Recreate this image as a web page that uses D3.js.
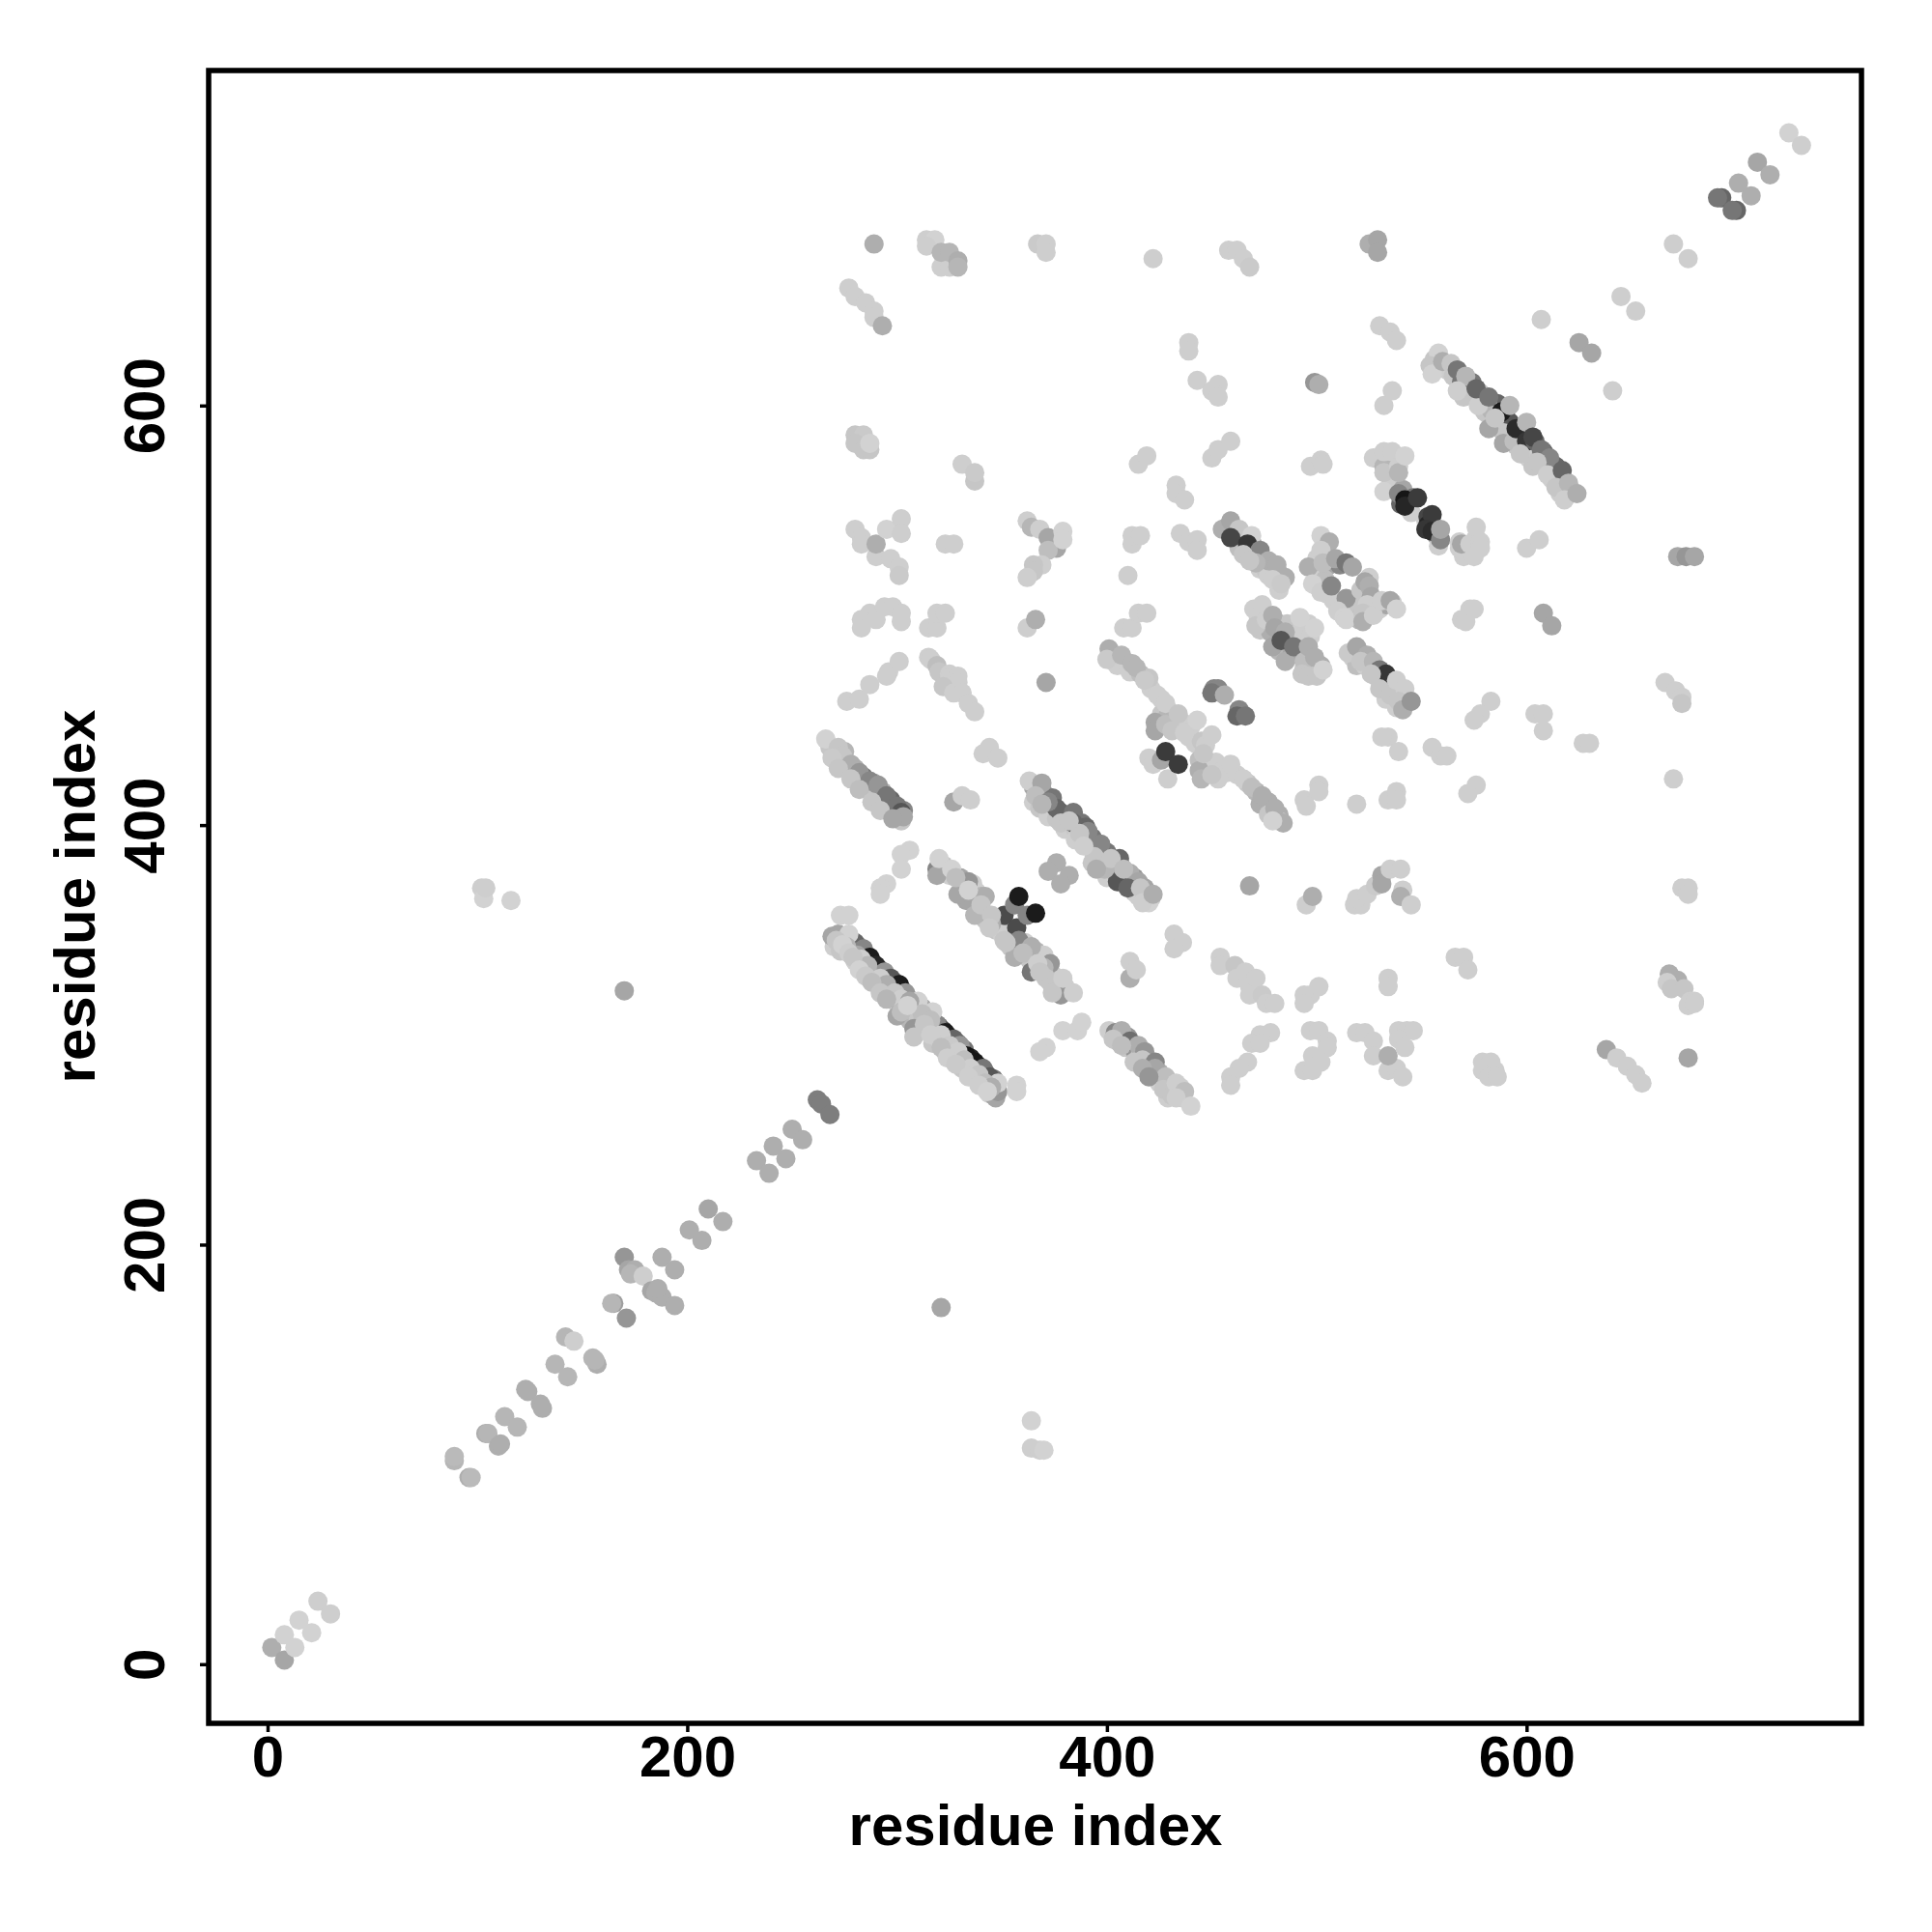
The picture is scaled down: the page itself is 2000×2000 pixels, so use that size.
<!DOCTYPE html>
<html><head><meta charset="utf-8">
<script src="https://cdn.jsdelivr.net/npm/d3@7"></script>
<style>html,body{margin:0;background:#fff}svg{display:block}text{font-family:"Liberation Sans",Arial,sans-serif;font-weight:bold;fill:#000}</style>
</head><body><svg id="c" width="2000" height="2000"></svg>
<script>
// each contact: [residue i, residue j, grey level]
const xTicks=[0,200,400,600], yTicks=[0,200,400,600];
const axisLabel="residue index";
const backbone=[[2,8,0xa8],[8,2,0xa0],[8,14,0xcc],[13,8,0xcc],[15,21,0xcc],[21,15,0xcc],[24,30,0xc8],[30,24,0xc8],
[89,97,0xb0],[89,99,0xb4],[96,89,0xa8],[97,89,0xb4],[104,110,0xa8],[105,110,0xb0],[110,104,0xa8],[111,105,0xa8],[113,118,0xb0],[119,113,0xb0],[123,131,0xa8],[124,130,0xa8],[130,124,0xa8],[131,122,0xa8],
[137,143,0xb0],[143,137,0xb0],[142,156,0xb0],[146,154,0xc8],[155,146,0xb0],[157,143,0xa8],[156,145,0xb0],[165,172,0x98],[171,165,0x90],[164,172,0xb0],[170,194,0x90],[172,188,0xa0],[175,188,0xa8],[173,186,0xb0],[179,185,0xc8],[188,194,0xa8],[194,188,0xa8],[183,178,0xa0],[185,177,0xa8],[188,175,0xa8],[186,179,0xa8],[194,171,0xa8],
[201,207,0xa8],[207,202,0xa8],[210,217,0xa0],[217,211,0xa8],[233,240,0xa8],[239,234,0xa8],[241,247,0xa8],[247,241,0xa8],[250,255,0xa8],[255,250,0xa8],[262,269,0x78],[264,267,0x78],[268,262,0x78],
[170,321,0xa0],[321,170,0xa0],[364,116,0xcc],[364,103,0xc8],[368,102,0xc8],[370,102,0xcc],[102,370,0xc8],[103,365,0xcc],[104,370,0xc8],[116,364,0xcc],
[725,730,0xcc],[731,724,0xc8],[710,716,0xa0],[716,710,0xa8],[693,699,0x60],[691,699,0x70],[700,693,0x60],[698,693,0x70],[701,706,0xa8],[707,700,0xa8]];
const strandA=[[270,342,0xc8],[273,340,0xc0],[275,346,0xb0],[278,345,0x90],[282,342,0xa0],[280,335,0xc8],[283,334,0xc0],[285,338,0x60],[288,335,0x40],[287,329,0xc8],[290,327,0xc0],[292,331,0x80],[295,328,0x70],[293,323,0xc8],[296,321,0xb0],[299,325,0x60],[302,322,0x50],[299,316,0xc8],[302,314,0xa0],[305,318,0xb0],[307,315,0xc0],[304,311,0xa0],[306,307,0xb0],[310,308,0xc0],[312,313,0xa0],[314,302,0xb8],[318,303,0x70],[320,304,0x60],[317,296,0xc0],[320,298,0xc8],[322,302,0x40],[325,299,0x50],[323,292,0xc0],[326,290,0xc8],[329,296,0x70],[332,293,0x70],[327,288,0xb0],[331,284,0xc0],[335,289,0x20],[339,285,0x60],[336,280,0xc0],[340,278,0xc8],[342,282,0x60],[346,279,0x70],[344,272,0xc8],[346,271,0xa8],
[269,347,0xa0],[272,348,0xa0],[280,344,0x60],[284,341,0x80],[287,337,0x15],[290,333,0x20],[294,330,0x90],[297,327,0x50],[301,324,0x15],[304,320,0x90],[319,305,0x80],[323,301,0x15],[327,298,0x60],[330,295,0x90],[333,290,0x10],[337,287,0x10],[341,284,0x70],[344,280,0x50],[347,270,0xa0],[348,273,0x90],[277,348,0xcc],[310,316,0xcc],[317,311,0xcc],[348,277,0xcc],
[271,345,0xc0],[276,342,0xb0],[281,338,0xa0],[283,336,0xc8],[286,333,0xb0],[292,327,0xc8],[295,324,0xa8],[299,320,0xc0],[302,317,0xc8],[306,316,0xa0],[312,310,0xb8],[316,307,0xb8],[321,300,0xc8],[325,295,0xc4],[329,292,0xc8],[332,288,0xb8],[335,284,0xc8],[339,281,0xc0],[342,277,0xb8],[345,275,0xa8],
[274,343,0xcc],[277,339,0xc8],[279,337,0xc0],[282,331,0xcc],[285,328,0xc4],[288,325,0xb8],[292,320,0xc0],[295,317,0xb0],[300,309,0xa0],[302,311,0xb8],[305,314,0xcc],[308,303,0x90],[308,299,0xc0],[313,305,0xc0],[316,300,0xc8],[321,294,0xb8],[324,289,0xc8],[328,286,0xc4],[334,280,0xc8],[339,276,0xc8],[343,273,0xcc]];
const strandB=[[322,381,0xc0],[325,376,0xc8],[330,375,0xa0],[332,370,0xc0],[336,372,0xc8],[338,368,0xc8],[340,366,0xb0],[333,364,0xa0],[342,355,0xc0],[347,350,0xc0],[348,353,0x90],[350,348,0xc8],[354,342,0xc0],[357,339,0xc8],[361,344,0xc8],[363,336,0xc0],[366,340,0xb0],[366,332,0xc0],[370,338,0xc8],[372,330,0x90],[375,328,0xc8],[377,325,0xb0],[381,321,0xa0],[380,323,0xc8],[376,322,0xc8],[373,325,0xc0],
[319,379,0x80],[334,373,0x90],[342,366,0xa8],[351,357,0x45],[357,351,0x45],[358,345,0x80],[364,342,0xa8],[373,334,0x90],
[319,376,0xa0],[329,367,0xa0],[337,357,0xb0],[345,353,0xa8],[356,337,0xa8],[364,330,0x70],[378,319,0x90],[340,362,0xc0],[345,357,0xc0],[352,344,0xc0],[360,339,0xb8],[370,332,0xb0],
[320,384,0xcc],[326,379,0xcc],[328,375,0xb8],[334,369,0xcc],[344,351,0xc4],[351,345,0xc0],[367,334,0xc8],[371,327,0xc0],[374,320,0xc0],[368,330,0xc0],[379,327,0xc8],[384,320,0xc8],
[356,362,0x80],[358,366,0x15],[362,357,0x80],[366,358,0x15],[376,382,0xa8],[372,378,0xa8],[382,376,0xa8],[378,372,0xa8]];
const strandC=[[365,418,0xa0],[367,417,0x80],[370,415,0x90],[374,413,0x70],[365,411,0xc8],[368,408,0xc0],[372,404,0xc8],[376,403,0xc0],[378,406,0x60],[381,403,0x70],[380,398,0xc8],[385,398,0xc0],[388,401,0x70],[390,399,0x60],[385,393,0xc8],[390,392,0xc8],[393,394,0x70],[395,388,0xb0],[393,382,0xc0],[397,381,0xc8],[400,387,0x70],[403,382,0x60],[400,375,0xc8],[404,376,0xc8],[407,380,0xa0],[413,375,0x90],[409,372,0xc0],[413,368,0xc8],[418,370,0xa0],[415,366,0xc8],[418,367,0xc0],[421,365,0xc8],[420,365,0xa8],
[363,421,0xc8],[369,420,0xa0],[366,414,0xb8],[376,408,0x60],[372,411,0x80],[369,410,0xb0],[378,401,0xc0],[384,406,0x70],[384,401,0x60],[391,397,0x80],[397,391,0x80],[406,384,0x60],[411,377,0xa8],[415,373,0xa0],[405,373,0x50],[410,370,0x60],[399,379,0xb0],[394,385,0xc0],[387,396,0xc0],[382,402,0xc0],[402,384,0xc0],[408,379,0xb8],[416,370,0xc0],[389,390,0xc8],[395,379,0xa8],[420,363,0xcc],[417,363,0xc8],[422,367,0xa8]];
const strandD=[[405,297,0xb0],[409,294,0xc0],[410,299,0x90],[413,293,0x90],[416,291,0xc8],[420,288,0xc0],[420,284,0xb0],[425,282,0xa8],[425,277,0xc8],[430,276,0xc0],[429,270,0xc8],[435,275,0xc8],[436,270,0xc8],
[401,302,0xc8],[404,301,0x80],[407,302,0xa8],[411,297,0x68],[415,295,0xa8],[418,292,0x90],[417,288,0xc0],[423,287,0x80],[423,284,0xa0],[428,280,0xb8],[403,298,0xc0],[407,295,0xb8],[413,287,0xc0],[417,284,0xa8],[420,280,0x90],[427,274,0xc0],[431,271,0xc0],[433,277,0xc8],[437,273,0xb8],[433,270,0xc8],[440,266,0xcc]];
const strandE=[[270,436,0xc8],[275,435,0xb0],[275,428,0xc8],[280,427,0xa8],[279,424,0xc0],[284,423,0x70],[285,419,0xc0],[289,420,0xa0],[290,415,0xc0],[293,416,0xa8],[295,410,0xc8],[297,412,0x60],[298,407,0xc8],[301,403,0xa8],[300,404,0xc8],[303,407,0x80],[302,402,0xc0],[268,437,0xc0],
[266,441,0xcc],[272,437,0xc0],[274,433,0xc0],[278,429,0xa8],[282,425,0x90],[287,421,0x80],[291,419,0x90],[295,414,0x70],[300,409,0x70],[302,406,0x50],[303,404,0xa0],[269,432,0xc4],[272,427,0xc0],[278,422,0xc0],[282,417,0xb8],[288,411,0xc0],[292,407,0xc0],[298,403,0xa0]];
const strandF=[[403,478,0xc8],[405,476,0xc8],[409,478,0xc8],[411,473,0xc8],[416,472,0xb8],[421,465,0xc8],[420,470,0xc0],[426,460,0xc8],[430,454,0xc8],[426,453,0xc0],[429,452,0xb0],[425,447,0xc0],[436,449,0xc8],[440,447,0xc8],[439,442,0xc8],[442,439,0xc8],[445,440,0xc0],[447,438,0xc8],[444,431,0xb8],[448,429,0xc8],[448,425,0xb0],[452,430,0xc8],[455,426,0xc8],[453,422,0xc8],[457,425,0xc8],[462,424,0xc8],[467,420,0xc0],[471,416,0xb0],[473,410,0xa8],[477,411,0xa8],[482,405,0xa8],[482,402,0xc8],[477,405,0xc0],[420,432,0xc8],
[401,484,0xa8],[400,479,0xc4],[407,481,0xb0],[412,477,0xb0],[414,475,0xb0],[418,469,0xc4],[424,462,0xc8],[428,458,0xc8],[423,449,0xa0],[423,445,0xa0],[428,448,0xb8],[431,445,0xc0],[434,453,0xc0],[437,444,0xc8],[443,450,0xcc],[450,443,0xc8],[444,426,0xa8],[445,422,0xb0],[446,434,0xc0],[450,424,0xc0],[459,429,0xc8],[465,422,0xc8],[469,418,0xb8],[474,414,0xa8],[480,408,0xa8],[484,401,0xa8],[479,402,0xcc],
[422,429,0xc8],[429,422,0xc8],[426,431,0xa0],[428,435,0x35],[434,429,0x35],[451,465,0x80],[453,465,0x80],[450,463,0x70],[456,462,0xa8],[463,455,0x80],[462,452,0x60],[466,452,0x70]];
const strandG=[[457,542,0xb0],[461,539,0xc8],[461,541,0xb0],[465,536,0xc8],[463,532,0xb8],[470,533,0xa8],[468,530,0xc0],[474,527,0xa8],[473,522,0xc8],[476,521,0xc0],[479,523,0xa0],[482,520,0xa8],[484,517,0xc8],[482,512,0xc8],[477,519,0xc8],
[455,541,0xa8],[459,545,0xa0],[463,541,0xc0],[469,538,0xcc],[459,537,0x40],[467,534,0x30],[473,531,0x80],[477,526,0xa8],[481,524,0xa8],[485,518,0xa8],[471,525,0xb0],[465,529,0xc0],[468,526,0xc0],[479,517,0xc8],[483,515,0xc4]];
const clusterH=[[472,500,0xc8],[473,493,0xc0],[478,492,0xa8],[482,496,0xa0],[486,496,0xc0],[488,490,0x50],[482,483,0xb0],[491,488,0xa8],[496,496,0xc8],[492,492,0xc8],[497,490,0xc8],[495,480,0xb0],[497,475,0xc0],[502,476,0xa8],[499,474,0xc0],[494,475,0xc0],[488,481,0xa0],
[470,503,0xc8],[474,505,0xc8],[471,495,0xc0],[476,498,0xc8],[479,500,0xa8],[480,494,0xa0],[485,492,0xa8],[479,485,0xa0],[485,478,0xa8],[483,488,0x50],[489,485,0x70],[494,478,0xb8],[496,485,0xa8],[499,480,0xa8],[492,499,0xcc],[499,494,0xcc],[493,472,0xc0],[496,471,0xc0],[500,471,0xc0],[503,474,0xcc]];
const clusterI=[[504,534,0xc8],[500,527,0xc8],[505,529,0xc0],[506,524,0xa0],[511,524,0x80],[500,519,0xc8],[500,514,0xc8],[504,517,0xb8],[505,510,0xc8],[508,507,0xc8],[511,506,0xc8],[516,503,0xc8],[518,500,0xc8],[520,505,0xc0],[525,518,0xc8],[524,511,0x90],[527,505,0xc0],[520,498,0xb0],[530,503,0xc8],[533,505,0xa0],[536,506,0xc8],
[502,538,0xcc],[506,535,0xa8],[502,531,0xc8],[496,523,0xa8],[503,525,0xb8],[509,527,0xa0],[514,525,0x70],[517,523,0xa0],[498,515,0xcc],[502,511,0xc8],[507,514,0x80],[514,508,0x90],[510,502,0xc8],[513,499,0xcc],[514,498,0xcc],[521,512,0xc0],[523,516,0xa0],[525,514,0xa8],[526,509,0xa0],[524,505,0xc8],[522,501,0xc0],[522,497,0xa8],[527,500,0xc8],[531,507,0xc8],[535,507,0xa0],[538,503,0xcc]];
const strandJ=[[517,480,0xc8],[519,476,0xb8],[523,476,0xc8],[525,478,0x90],[528,471,0xc0],[531,470,0xa8],[535,466,0xc8],[533,460,0xc8],[537,465,0xa8],[540,461,0xb8],[543,458,0xc8],[538,456,0xc8],[541,459,0xb0],[520,483,0xa8],
[515,482,0xc4],[519,485,0xa0],[524,481,0xa8],[521,478,0xc0],[527,478,0xb0],[530,474,0x70],[533,472,0x30],[526,472,0xc0],[530,465,0xc0],[535,462,0xc0],[538,469,0xc8],[542,465,0xc8],[539,459,0xc0],[541,455,0xa8],[545,459,0x90]];
const strandK=[[534,575,0xc8],[535,570,0xa8],[530,574,0xb8],[537,562,0xcc],[535,562,0xc8],[541,560,0xa0],[540,553,0x60],[544,554,0x40],[546,556,0x70],[545,549,0xc8],[552,545,0xc8],[553,547,0x40],[553,543,0x20],[557,538,0xa0],[558,533,0xc8],[571,532,0xb0],[570,528,0xc8],[574,530,0xc8],[576,537,0xc8],
[527,575,0xc8],[532,571,0xb0],[532,568,0xc0],[532,578,0xc8],[536,578,0xc8],[539,571,0xc8],[539,568,0xb0],[542,576,0xcc],[532,559,0xcc],[539,558,0x80],[542,555,0x10],[542,552,0x20],[548,556,0x35],[555,548,0x35],[552,541,0x30],[555,540,0x25],[559,536,0x80],[559,541,0xa0],
[568,535,0xc8],[568,532,0xc8],[569,534,0xa0],[573,534,0xc8],[575,528,0xc8],[576,542,0xc8],[578,535,0xc8],[578,532,0xc8]];
const strandL=[[556,622,0xc0],[562,617,0xc8],[565,614,0xc0],[569,611,0x70],[573,607,0xc8],[570,604,0xc0],[574,611,0x70],[578,606,0xc0],[579,602,0xb8],[584,600,0x50],[586,601,0x60],[580,597,0xc0],[583,598,0xb0],[577,600,0xc8],[586,591,0xb0],[590,595,0x30],[592,592,0x50],[589,587,0xc0],[593,585,0xc0],[598,586,0x30],[602,582,0x60],[595,581,0xc0],[600,578,0xc8],[605,580,0x50],[601,575,0xc8],[606,575,0xc0],[610,570,0xc0],[614,571,0x60],[609,574,0x60],[612,565,0xc8],[616,564,0xa8],[619,561,0xb0],[616,558,0xc8],[622,559,0xc8],
[558,625,0xcc],[554,619,0xc0],[555,615,0xcc],[560,621,0xa8],[564,620,0xc0],[567,617,0x70],[571,614,0xb0],[567,607,0xc8],[576,608,0x60],[582,604,0x70],[588,597,0x15],[582,589,0xa0],[585,594,0xc0],[592,600,0xb0],[589,582,0xa0],[594,583,0xb8],[595,589,0x25],[600,592,0xb0],[600,583,0x30],[604,583,0x60],[603,585,0x40],[597,577,0xc0],[608,578,0x60],[607,579,0x70],[611,575,0x80],[603,571,0xc0],[605,573,0xc0],[610,567,0xc8],[617,569,0x60],[614,561,0xc0],[620,563,0xb0],[618,555,0xc8],[624,558,0xa8]];
const scatterUpper=[[289,677,0xa8],[314,679,0xc8],[318,679,0xcc],[314,676,0xc8],[321,666,0xc8],[325,666,0xc8],[321,673,0xb0],[325,673,0xb0],[329,669,0xa8],[329,666,0xb0],[367,677,0xc4],[371,677,0xc8],[371,673,0xc8],[422,670,0xc8],[458,674,0xc8],[462,674,0xc8],[465,670,0xc8],[468,666,0xc4],[277,656,0xc8],[280,652,0xc8],[285,649,0xc8],[289,645,0xc8],[289,642,0xc8],[293,638,0xa8],[439,630,0xc8],[439,626,0xc8],[443,612,0xc8],[453,610,0xc8],[450,607,0xc8],[453,604,0xc8],[280,586,0xc0],[284,586,0xc4],[280,582,0xc0],[284,579,0xc0],[287,579,0xc0],[287,582,0xcc],[331,572,0xc8],[337,564,0xc0],[337,568,0xc4],[415,572,0xc8],[419,576,0xc8],[450,575,0xc8],[453,579,0xc8],[459,583,0xc8],[433,562,0xc8],[433,558,0xc8],[437,555,0xc8],[280,541,0xc8],[283,537,0xc8],[283,534,0xc8],[290,528,0xc8],[290,534,0xa8],[297,527,0xc8],[301,523,0xc8],[301,519,0xc4],[295,541,0xcc],[302,546,0xc8],[302,539,0xc8],[323,534,0xc8],[327,534,0xc8],[362,545,0xc8],[364,542,0xb0],[368,541,0xc8],[372,537,0xa0],[376,532,0xa0],[372,531,0xb8],[379,540,0xcc],[379,536,0xcc],[369,524,0xc8],[365,524,0xc0],[365,521,0xc0],[362,518,0xc8],[412,534,0xc8],[412,538,0xc8],[416,538,0xc8],[410,519,0xc8],[435,539,0xc8],[439,535,0xc8],[443,536,0xc8],[443,531,0xc8],
[283,494,0xc8],[283,498,0xc8],[287,501,0xc8],[290,498,0xc8],[294,504,0xc8],[298,504,0xc8],[302,501,0xc8],[302,497,0xc8],[315,494,0xc8],[319,494,0xc8],[319,501,0xc8],[323,501,0xc8],[362,494,0xc8],[366,498,0xa8],[408,494,0xc8],[412,494,0xc8],[415,501,0xc8],[419,501,0xc8],[296,473,0xc8],[301,478,0xc8],[315,480,0xc8],[316,479,0xc8],[319,476,0xb8],[320,473,0xc0],[325,472,0xc8],[325,470,0xc8],[329,471,0xc8],[329,468,0xc8],[322,466,0xc0],[327,463,0xc8],[331,463,0xc8],[334,458,0xc8],[337,454,0xc8],[371,468,0xa0],[276,459,0xc8],[282,460,0xc8],[287,467,0xc8],[295,471,0xc8],
[341,434,0xc8],[344,437,0xc8],[348,432,0xc8],[327,411,0xa0],[331,414,0xc8],[335,412,0xc8],[306,388,0xcc],[302,386,0xcc],[302,379,0xcc],[295,372,0xcc],[292,370,0xcc],[292,367,0xcc],[273,357,0xcc],[277,357,0xcc],[357,276,0xcc],[357,273,0xcc],[371,294,0xcc],[368,292,0xcc],[379,302,0xcc],[386,302,0xcc],[388,306,0xcc],[468,371,0xa0]];
const scatterRight=[[499,611,0x90],[501,610,0xa8],[536,607,0xc8],[532,600,0xc8],[497,571,0xc8],[502,574,0xc8],[503,572,0xc8],[600,532,0xc8],[606,536,0xc8],[608,501,0xa0],[612,495,0xa0],[569,498,0xc8],[571,497,0xc8],[573,503,0xc8],[575,503,0xc8],[534,442,0xc8],[531,442,0xc8],[539,435,0xc8],[555,437,0xc8],[559,433,0xc8],[562,433,0xc8],[583,459,0xc8],[578,453,0xc8],[575,450,0xc8],[604,453,0xc8],[608,453,0xc8],[608,445,0xc8],[627,439,0xc8],[630,439,0xc8],[494,412,0xc8],[495,409,0xc8],[501,419,0xc8],[501,416,0xc8],[519,410,0xc8],[534,412,0xc8],[538,416,0xc8],[538,412,0xc8],[576,419,0xc8],[572,415,0xc8],
[607,641,0xc8],[625,630,0xa0],[631,625,0xa0],[645,652,0xc8],[652,645,0xc8],[641,607,0xc8],[670,677,0xc8],[677,670,0xc8],[525,677,0xa8],[529,679,0xa0],[529,673,0xa0],[530,638,0xc8],[535,635,0xc8],[538,631,0xc8],[666,468,0xc8],[671,464,0xc8],[674,461,0xc8],[674,458,0xc0],[672,528,0xa0],[676,528,0x90],[680,528,0xa0],[670,422,0xc8],[674,370,0xc8],[677,370,0xc8],[677,367,0xc8],
[638,293,0xa0],[643,289,0xc8],[648,285,0xc8],[652,281,0xc8],[655,277,0xc8],[668,329,0xa8],[672,326,0xa8],[667,325,0xc8],[669,322,0xc0],[675,322,0xc0],[678,316,0xc8],[680,316,0xc8],[677,314,0xc8],[680,315,0xc8],[677,289,0xa0],[566,337,0xc8],[570,337,0xc8],[572,331,0xc8],
[495,362,0xc8],[498,366,0xa8],[518,362,0xc8],[521,362,0xc8],[519,365,0xc8],[524,367,0xc8],[528,371,0xc4],[531,376,0xa0],[531,372,0xa0],[541,369,0xc8],[540,366,0xa8],[545,362,0xc8],[535,379,0xc8],[540,379,0xc8],[534,327,0xc8],[534,323,0xc8],[432,348,0xc8],[436,344,0xc8],[432,341,0xc8],[411,327,0xa8],[411,335,0xc8],[414,331,0xc8],[454,337,0xc8],[454,333,0xc8],[461,333,0xc0],[462,327,0xc8],[466,330,0xc8],[468,323,0xc8],[471,327,0xc8],[468,319,0xc8],[474,319,0xc4],[476,315,0xc8],[480,315,0xc8],[497,319,0xc8],[501,323,0xc8],[494,319,0xc8],[494,315,0xc8],
[478,301,0xc8],[473,300,0xc8],[469,296,0xc8],[473,296,0xc8],[467,287,0xc8],[463,284,0xc8],[459,280,0xc8],[459,276,0xc8],[497,302,0xc8],[501,302,0xc8],[505,297,0xc8],[505,294,0xc8],[498,290,0xc8],[502,287,0xc8],[494,283,0xc8],[498,283,0xc8],[519,301,0xc8],[523,301,0xc8],[527,297,0xc8],[527,290,0xc8],[534,283,0xc8],[538,284,0xc8],[541,280,0xc8],[534,290,0xa8],[539,302,0xc8],[543,302,0xc8],[546,302,0xc8],[539,298,0xc8],[542,294,0xc8],[579,287,0xc8],[583,287,0xc8],[579,283,0xc8],[585,283,0xc8],[582,280,0xc8],[586,280,0xc8]];
const contacts=[backbone,strandA,strandB,strandC,strandD,strandE,strandF,strandG,clusterH,clusterI,strandJ,strandK,strandL,scatterUpper,scatterRight].flat();

const left=216,right=1927,top_=73,bottom=1784;
const x=d3.scaleLinear().domain([-28.08,759.6]).range([left,right]);
const y=d3.scaleLinear().domain([-28.2,759.7]).range([bottom,top_]);
const svg=d3.select("#c");
svg.append("g").selectAll("circle").data(contacts).join("circle")
 .attr("cx",d=>x(d[0])).attr("cy",d=>y(d[1])).attr("r",10)
 .attr("fill",d=>{const g=Math.min(255,d[2]+6);return d3.rgb(g,g,g).formatHex();});
svg.append("rect").attr("x",left).attr("y",top_).attr("width",right-left).attr("height",bottom-top_)
 .attr("fill","none").attr("stroke","#000").attr("stroke-width",5.5);
const gx=svg.append("g").attr("transform",`translate(0,${bottom+2})`)
 .call(d3.axisBottom(x).tickValues(xTicks).tickSize(7).tickPadding(0).tickFormat(d3.format("d")));
const gy=svg.append("g").attr("transform",`translate(${left-2},0)`)
 .call(d3.axisLeft(y).tickValues(yTicks).tickSize(7).tickPadding(0).tickFormat(d3.format("d")));
[gx,gy].forEach(g=>{g.select(".domain").remove();g.selectAll(".tick line").attr("stroke","#000").attr("stroke-width",3.5);
 g.selectAll("text").attr("font-size",60).style("font-family",'"Liberation Sans"').style("font-weight","bold");});
gx.attr("font-family",null);gy.attr("font-family",null);
gx.selectAll("text").attr("dy",null).attr("y",53);
gy.selectAll("text").attr("dy",null).attr("x",null).attr("text-anchor","middle").attr("transform","translate(-44,0) rotate(-90)");
svg.append("text").attr("x",1072).attr("y",1910).attr("text-anchor","middle").attr("font-size",60).text(axisLabel);
svg.append("text").attr("transform","translate(98,928) rotate(-90)").attr("text-anchor","middle").attr("font-size",60).text(axisLabel);
</script></body></html>
